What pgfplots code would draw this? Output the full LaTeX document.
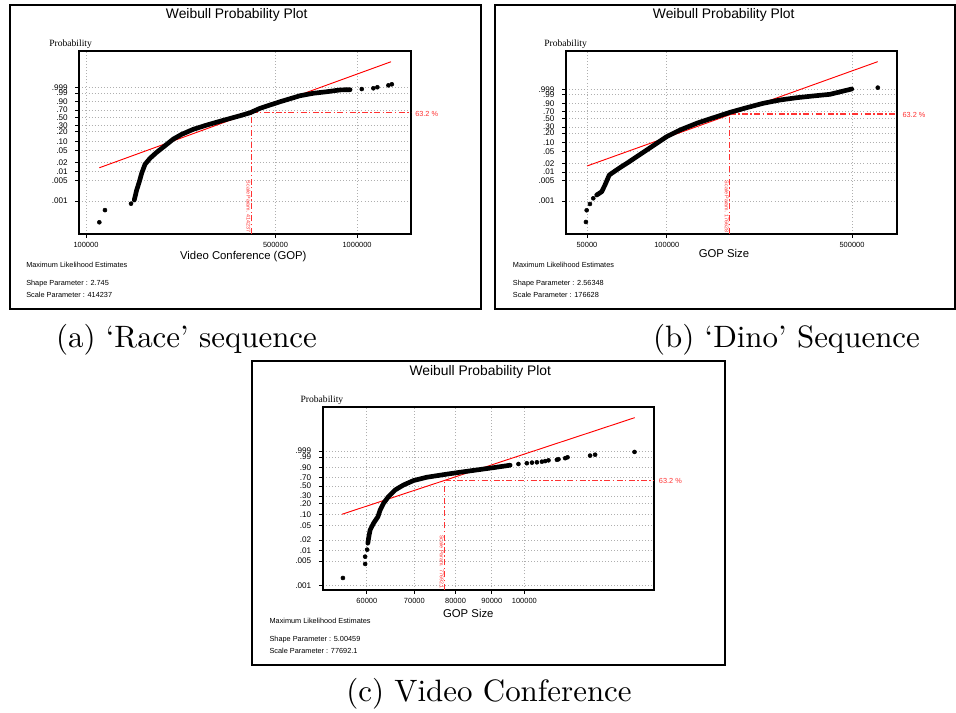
\documentclass[border=0pt]{standalone}
\usepackage{pgfplots}
\pgfplotsset{compat=1.18}
\usepackage{fontspec}
\newfontfamily\arial{Liberation Sans}
\newfontfamily\timesf{Liberation Serif}
\newfontfamily\capfont[Ligatures=TeX]{lmroman10-regular.otf}
\definecolor{fitred}{RGB}{255,0,0}
\definecolor{lred}{RGB}{255,50,50}
\definecolor{gridgray}{RGB}{175,175,175}
% y values are on the Weibull scale: ln(-ln(1-F))
\pgfplotsset{every axis/.append style={
  scale only axis, anchor=north west,
  axis line style={line width=1.3pt, black},
  tick align=outside, tick pos=left, major tick length=3pt, tick style={black, line width=0.6pt},
  xminorticks=false, yminorticks=false,
  ytick={-6.907,-5.296,-4.600,-3.902,-2.970,-2.250,-1.500,-1.031,-0.367,0.186,0.834,1.527,1.933},
  yticklabels={.001,.005,.01,.02,.05,.10,.20,.30,.50,.70,.90,.99,.999},
  yticklabel style={font=\fontsize{6.1}{6.1}\selectfont\arial, xshift=-2.2pt},
  xticklabel style={font=\fontsize{5.6}{5.6}\selectfont\arial},
  grid=major, major grid style={gridgray, line width=0.6pt, dash pattern=on 0.7pt off 1.6pt},
}}
\tikzset{
  bandline/.style={black, line width=3.5pt, line cap=round, line join=round},
  dotmarks/.style={only marks, mark=*, mark size=1.5pt, black},
  fitline/.style={fitred, line width=0.7pt},
  ddline/.style={lred, line width=0.95pt, dash pattern=on 4.5pt off 1.8pt on 1.1pt off 1.8pt},
  sm/.style={anchor=west, inner sep=0pt, font=\fontsize{5.5}{6}\selectfont\arial},
  ttl/.style={font=\fontsize{10.4}{12}\selectfont\arial},
  prob/.style={anchor=west, inner sep=0pt, font=\fontsize{7.2}{8}\selectfont\timesf},
  xl/.style={font=\fontsize{8.5}{10}\selectfont\arial},
  rottext/.style={rotate=-90, anchor=north east, inner sep=0.6pt, lred, font=\fontsize{4}{4}\selectfont\arial},
  captext/.style={font=\fontsize{23.2}{26}\selectfont\capfont},
}
\begin{document}
\begin{tikzpicture}
\path[use as bounding box] (0,0) rectangle (717pt,-534.75pt);
% ---------------- (a)
\begin{axis}[xmode=log, at={(59.475pt,-38.025pt)}, width=248.775pt, height=137.25pt,
  xmin=94500, xmax=1581000, ymin=-9.45, ymax=4.82,
  xtick={100000,500000,1000000}, xticklabels={100000,500000,1000000}]
\addplot[fitline] coordinates {(112000,-4.31) (1334000,3.96)};
\addplot[ddline] coordinates {(408000,-9.45) (408000,0)};
\addplot[ddline] coordinates {(408000,0) (1581000,0)};
\addplot[bandline] coordinates {
(150700,-6.83) (153800,-6.05) (157300,-5.40) (160500,-4.74) (165100,-4.04)
(172300,-3.57) (182400,-3.10) (195700,-2.59) (210000,-2.07) (225500,-1.70)
(248900,-1.31) (278800,-0.98) (321000,-0.61) (370100,-0.25) (402900,-0.02)
(438600,0.33) (519900,0.84) (616200,1.31) (689900,1.50) (773100,1.62)
(865600,1.76) (942300,1.78)};
\addplot[dotmarks] coordinates {(112000,-8.56) (117500,-7.61) (146600,-7.11)
(1040600,1.83) (1148400,1.89) (1188000,1.97) (1304800,2.12) (1343000,2.20)};
\node[rottext] at (axis cs:408000,-9.45) {Scale Param. 414237};
\end{axis}
% ---------------- (b)
\begin{axis}[xmode=log, at={(424.5pt,-38.025pt)}, width=248.475pt, height=137.25pt,
  xmin=41680, xmax=741000, ymin=-9.49, ymax=5.03,
  xtick={50000,100000,500000}, xticklabels={50000,100000,500000}]
\addplot[fitline] coordinates {(50000,-4.12) (625000,4.16)};
\addplot[ddline] coordinates {(172800,-9.49) (172800,0)};
\addplot[ddline] coordinates {(172800,0) (741000,0)};
\addplot[bandline] coordinates {
(54390,-6.42) (56810,-6.16) (58460,-5.63) (60690,-4.83) (63770,-4.52)
(66590,-4.25) (71590,-3.83) (77030,-3.38) (84030,-2.85) (91620,-2.32)
(99950,-1.79) (112200,-1.26) (129700,-0.73) (149900,-0.29) (173200,0.14)
(200300,0.51) (231400,0.86) (267500,1.12) (309300,1.30) (357300,1.44)
(413000,1.57) (463700,1.83) (498800,1.99)};
\addplot[dotmarks] coordinates {(49560,-8.56) (49870,-7.63) (51310,-7.13) (52810,-6.68)
(625200,2.10)};
\node[rottext] at (axis cs:172800,-9.49) {Scale Param. 176628};
\end{axis}
% ---------------- (c)
\begin{axis}[xmode=log, at={(242.025pt,-305.25pt)}, width=248.475pt, height=137.025pt,
  xmin=52000, xmax=152300, ymin=-7.17, ymax=4.82,
  xtick={60000,70000,80000,90000,100000}, xticklabels={60000,70000,80000,90000,100000}]
\addplot[fitline] coordinates {(55340,-2.22) (143050,4.12)};
\addplot[ddline] coordinates {(77270,-7.17) (77270,0)};
\addplot[ddline] coordinates {(77270,0) (152300,0)};
\addplot[bandline] coordinates {
(60190,-4.12) (60390,-3.69) (60640,-3.25) (61310,-2.81) (62190,-2.38)
(62650,-1.94) (63330,-1.50) (64360,-1.06) (65780,-0.62) (67560,-0.30)
(69780,-0.01) (72880,0.21) (76920,0.38) (81200,0.54) (85720,0.69)
(90470,0.84) (95500,1.00)};
\addplot[dotmarks] coordinates {(55520,-6.40) (59670,-5.48) (59670,-5.00) (60060,-4.54)
(98100,1.08) (100800,1.13) (102500,1.17) (104140,1.19) (105850,1.23) (106980,1.27)
(108140,1.32) (111130,1.36) (111710,1.39) (114160,1.46) (115030,1.52)
(123770,1.63) (125800,1.69) (142940,1.87)};
\node[rottext] at (axis cs:77270,-7.17) {Scale Param. 77692.1};
\end{axis}
% ---------------- texts and frames (pixel units)
\begin{scope}[x=0.75pt, y=-0.75pt]
\draw[line width=1.1pt] (10,5) rectangle (481,309);
\draw[line width=1.1pt] (495,5) rectangle (955,309);
\draw[line width=1.1pt] (252,361) rectangle (725,665);
% (a)
\node[ttl] at (236.7,15) {Weibull Probability Plot};
\node[prob] at (49,44.7) {Probability};
\node[xl] at (243.3,256.7) {Video Conference (GOP)};
\node[sm] at (26,265.3) {Maximum Likelihood Estimates};
\node[sm] at (26,283.3) {Shape Parameter : 2.745};
\node[sm] at (26,295.3) {Scale Parameter : 414237};
\node[sm, lred] at (415,113.7) {63.2 \%};
% (b)
\node[ttl] at (723.7,15) {Weibull Probability Plot};
\node[prob] at (544,44.7) {Probability};
\node[xl] at (724,253) {GOP Size};
\node[sm] at (512.7,265.3) {Maximum Likelihood Estimates};
\node[sm] at (512.7,283.3) {Shape Parameter : 2.56348};
\node[sm] at (512.7,295.3) {Scale Parameter : 176628};
\node[sm, lred] at (902.3,115.3) {63.2 \%};
% (c)
\node[ttl] at (480.3,372.3) {Weibull Probability Plot};
\node[prob] at (300.3,400.7) {Probability};
\node[xl] at (468.3,613.3) {GOP Size};
\node[sm] at (269.3,621.3) {Maximum Likelihood Estimates};
\node[sm] at (269.3,639.3) {Shape Parameter : 5.00459};
\node[sm] at (269.3,651.3) {Scale Parameter : 77692.1};
\node[sm, lred] at (658.7,481.3) {63.2 \%};
% captions
\node[captext] at (186.5,340) {(a) `Race' sequence};
\node[captext] at (786.5,340) {(b) `Dino' Sequence};
\node[captext] at (489,694) {(c) Video Conference};
\end{scope}
\end{tikzpicture}
\end{document}
